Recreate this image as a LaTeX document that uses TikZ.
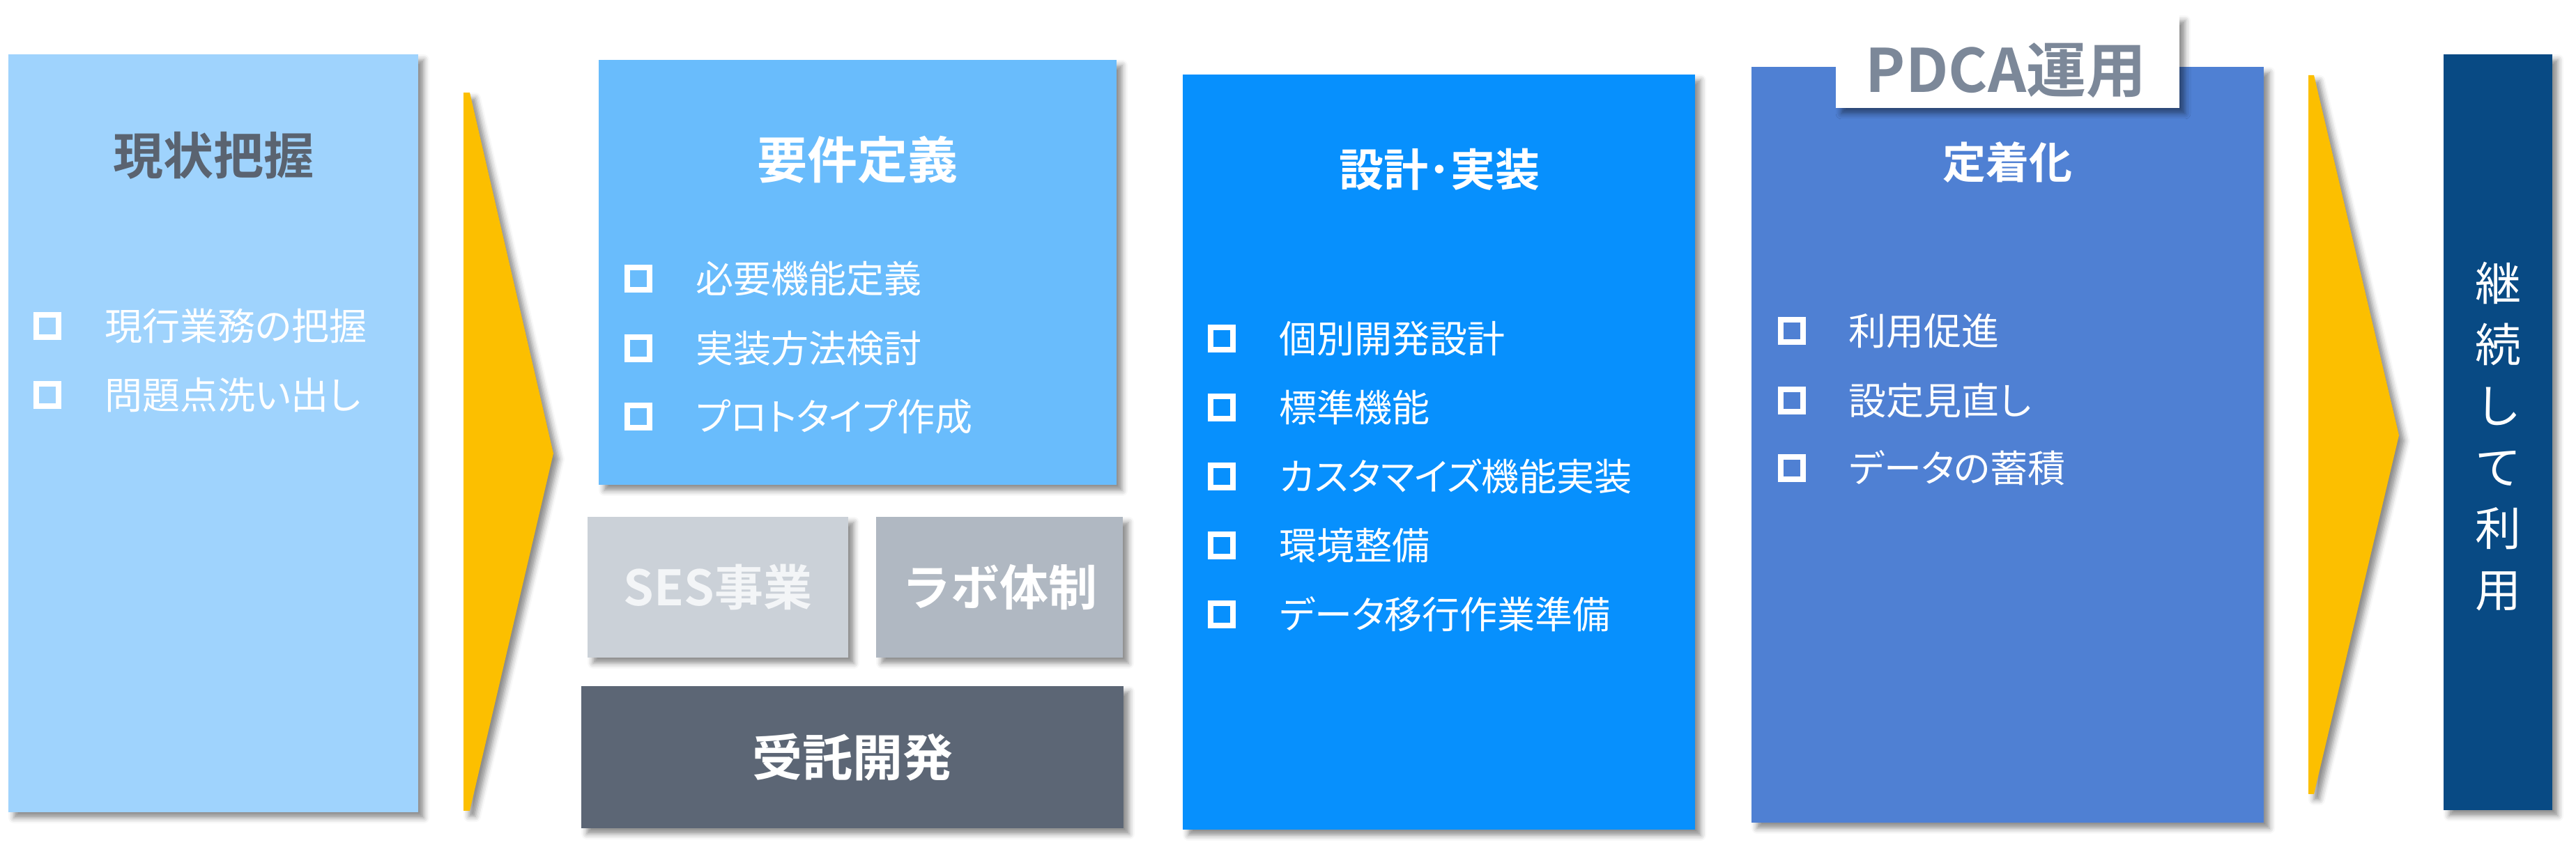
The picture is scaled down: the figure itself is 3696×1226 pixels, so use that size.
\documentclass[tikz,border=0pt]{standalone}
\usepackage{fontspec}
\setmainfont{Noto Sans CJK JP}[BoldFont=* Bold]
\newfontfamily\jpp{Noto Sans CJK JP}[RawFeature=+palt]
\usetikzlibrary{shadows.blur,fit}
\definecolor{cA}{HTML}{9FD3FD}
\definecolor{cB}{HTML}{69BCFC}
\definecolor{cC}{HTML}{0790FD}
\definecolor{cD}{HTML}{4F80D3}
\definecolor{cE}{HTML}{084A84}
\definecolor{cArrow}{HTML}{FCBF00}
\definecolor{cSES}{HTML}{CBD1D8}
\definecolor{cLab}{HTML}{B0B8C2}
\definecolor{cJut}{HTML}{5C6675}
\definecolor{cDark}{HTML}{5A6370}
\definecolor{cPDCA}{HTML}{7C8899}
\definecolor{cSEStext}{HTML}{F3F5F7}
\tikzset{
  x=0.25pt, y=-0.25pt,
  shd/.style={blur shadow={shadow xshift=2pt, shadow yshift=-2pt, shadow blur radius=2pt, shadow opacity=45}},
  panel/.style={inner sep=0pt, outer sep=0pt, draw=none, shd},
  ttl/.style={font=\bfseries\fontsize{18}{20}\selectfont, text=white, inner sep=0pt},
  itm/.style={font=\jpp\fontsize{13.5}{15}\selectfont, text=white, anchor=west, inner sep=0pt},
  chk/.style={draw=white, line width=2pt, minimum size=8pt, inner sep=0pt},
  chev/.style={fill=cArrow, shd},
}
\begin{document}
\begin{tikzpicture}
\useasboundingbox (0,0) rectangle (3696,1226);
% panels
\node[panel, fill=cA, fit={(12,78)(600,1166)}] (p1) {};
\node[panel, fill=cB, fit={(859,86)(1602,696)}] (p2) {};
\node[panel, fill=cSES, minimum width=93.5pt, minimum height=50.5pt, text=cSEStext,
      font=\bfseries\fontsize{17.5}{19}\selectfont] (ses) at (1030,843) {SES事業};
\node[panel, fill=cLab, minimum width=88.5pt, minimum height=50.5pt, text=white,
      font=\bfseries\fontsize{17.5}{19}\selectfont] (lab) at (1434,843) {ラボ体制};
\node[panel, fill=cJut, minimum width=194.5pt, minimum height=51pt, text=white,
      font=\bfseries\fontsize{18}{20}\selectfont] (jut) at (1223,1087) {受託開発};
\node[panel, fill=cC, fit={(1697,107)(2432,1191)}] (p3) {};
\node[panel, fill=cD, fit={(2513,96)(3248,1181)}] (p4) {};
\node[panel, fill=white, fit={(2634,22)(3127,155)}] (tag) {};
\node[inner sep=0pt, text=cPDCA, font=\bfseries\fontsize{21.5}{23}\selectfont] (tagt) at (2878,101) {PDCA運用};
\node[panel, fill=cE, fit={(3506,78)(3662,1163)}] (p5) {};
% chevrons
\coordinate (a1t) at (665,133);
\coordinate (a1p) at (794,651);
\coordinate (a1b) at (665,1164);
\fill[chev] (a1t) -- ++(9,0) -- (a1p) -- (674,1164) -- (a1b) -- cycle;
\coordinate (a2t) at (3312,108);
\coordinate (a2p) at (3442,625);
\coordinate (a2b) at (3312,1140);
\fill[chev] (a2t) -- ++(8,0) -- (a2p) -- (3320,1140) -- (a2b) -- cycle;
% titles
\node[ttl, text=cDark] (t1) at (306,223) {現状把握};
\node[ttl] (t2) at (1230,229) {要件定義};
\node[ttl, font=\bfseries\fontsize{16}{18}\selectfont] (t3) at (2065,243) {設計･実装};
\node[ttl, font=\bfseries\fontsize{15.5}{17}\selectfont] (t4) at (2880,233) {定着化};
\node[inner sep=0pt, text=white, align=center, font=\fontsize{16.5}{22}\selectfont] (t5) at (3584,627)
  {継\\続\\し\\て\\利\\用};
% panel 1 items
\node[chk] (k11) at (68,468) {};
\node[itm] (i11) at (150,468) {現行業務の把握};
\node[chk] (k12) at (68,567) {};
\node[itm] (i12) at (150,567) {問題点洗い出し};
% panel 2 items
\node[chk] (k21) at (916,400) {};
\node[itm] (i21) at (998,400) {必要機能定義};
\node[chk] (k22) at (916,500) {};
\node[itm] (i22) at (998,500) {実装方法検討};
\node[chk] (k23) at (916,598) {};
\node[itm] (i23) at (998,598) {プロトタイプ作成};
% panel 3 items
\node[chk] (k31) at (1753,486) {};
\node[itm] (i31) at (1835,486) {個別開発設計};
\node[chk] (k32) at (1753,585) {};
\node[itm] (i32) at (1835,585) {標準機能};
\node[chk] (k33) at (1753,684) {};
\node[itm] (i33) at (1835,684) {カスタマイズ機能実装};
\node[chk] (k34) at (1753,783) {};
\node[itm] (i34) at (1835,783) {環境整備};
\node[chk] (k35) at (1753,882) {};
\node[itm] (i35) at (1835,882) {データ移行作業準備};
% panel 4 items
\node[chk] (k41) at (2571,475) {};
\node[itm] (i41) at (2652,475) {利用促進};
\node[chk] (k42) at (2571,575) {};
\node[itm] (i42) at (2652,575) {設定見直し};
\node[chk] (k43) at (2571,672) {};
\node[itm] (i43) at (2652,672) {データの蓄積};
\end{tikzpicture}
\end{document}
